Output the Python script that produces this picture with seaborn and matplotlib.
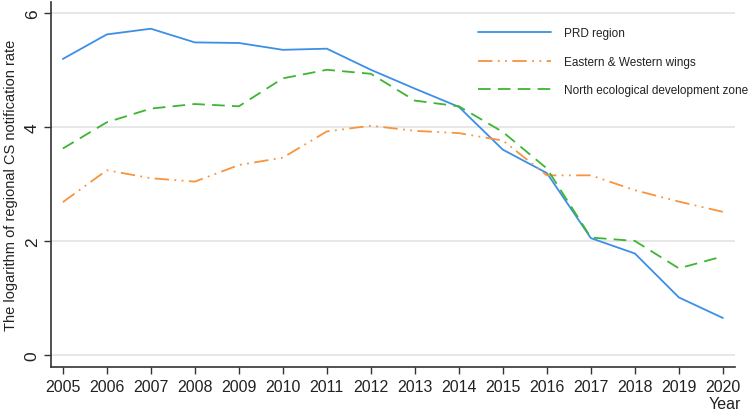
import numpy as np
import pandas as pd
import matplotlib
matplotlib.use("Agg")
import matplotlib.pyplot as plt
import seaborn as sns

# --- Data ---
years = list(range(2005, 2021))
prd = [5.19, 5.62, 5.72, 5.48, 5.47, 5.35, 5.37, 5.00, 4.67, 4.35,
       3.60, 3.19, 2.05, 1.78, 1.01, 0.65]
wings = [2.68, 3.24, 3.10, 3.04, 3.33, 3.46, 3.92, 4.02, 3.93, 3.89,
         3.76, 3.15, 3.15, 2.89, 2.69, 2.51]
north = [3.62, 4.08, 4.32, 4.40, 4.36, 4.85, 5.00, 4.93, 4.46, 4.36,
         3.91, 3.27, 2.06, 2.00, 1.52, 1.73]
series_names = ["PRD region", "Eastern & Western wings",
                "North ecological development zone"]

df = pd.DataFrame({
    "Year": years * 3,
    "value": prd + wings + north,
    "region": np.repeat(series_names, len(years)),
})

# --- Style ---
sns.set_style("white")
plt.rcParams["font.family"] = ["Liberation Sans", "DejaVu Sans"]

palette = dict(zip(series_names, ["#3c8fe6", "#f7943c", "#3db532"]))
dashes = dict(zip(series_names, ["", (8, 3, 1, 3, 1, 3), (7, 4)]))

fig = plt.figure(figsize=(7.49, 4.14), dpi=100)
ax = fig.add_axes([0.068, 0.111, 0.913, 0.882])

sns.lineplot(data=df, x="Year", y="value", hue="region", style="region",
             palette=palette, dashes=dashes, linewidth=1.3, ax=ax)

ax.set_xlim(2004.73, 2020.27)
ax.set_ylim(-0.21, 6.19)
ax.set_xticks(years)
ax.set_yticks([0, 2, 4, 6])
ax.tick_params(axis="both", direction="out", length=5, width=1.0,
               color="#333333", labelsize=11.5, labelcolor="#222222",
               bottom=True, left=True)
ax.tick_params(axis="y", labelrotation=90, pad=3, labelsize=12.5)
for lab in ax.get_yticklabels():
    lab.set_va("center")
ax.yaxis.grid(True, color="#e3e3e3", linewidth=1.2)
ax.set_axisbelow(True)

for side in ["top", "right"]:
    ax.spines[side].set_visible(False)
for side in ["left", "bottom"]:
    ax.spines[side].set_color("#333333")
    ax.spines[side].set_linewidth(1.2)

ax.set_ylabel("The logarithm of regional CS notification rate", fontsize=10.5,
              color="#222222", labelpad=5)
ax.set_xlabel("Year", fontsize=11.5, color="#222222")
ax.xaxis.set_label_coords(0.985, -0.08)

handles, labels = ax.get_legend_handles_labels()
ax.legend(handles, labels, loc="upper right", bbox_to_anchor=(1.035, 0.96),
          frameon=False, handlelength=6.2, labelspacing=1.4, fontsize=8.5,
          handletextpad=1.1, labelcolor="#222222")

fig.savefig("out.png", dpi=100)
